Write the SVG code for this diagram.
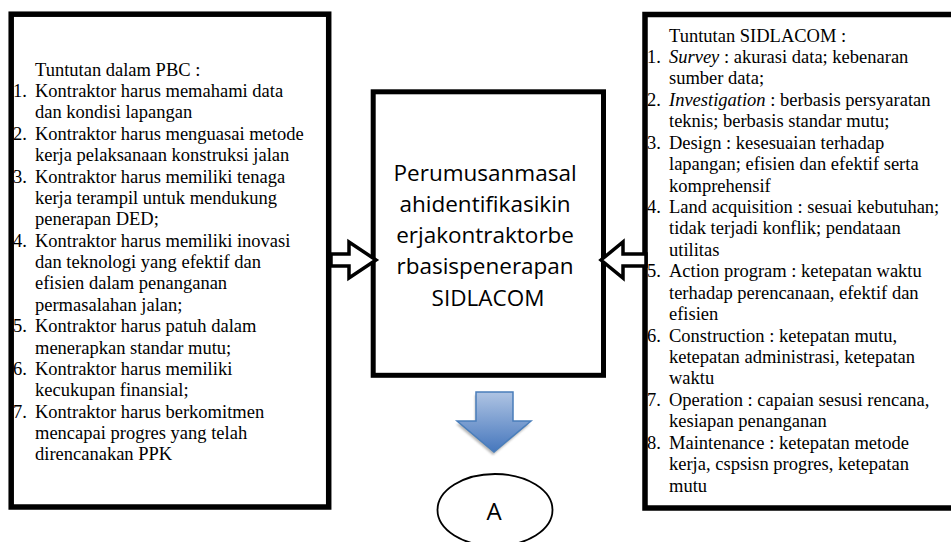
<svg xmlns="http://www.w3.org/2000/svg" width="951" height="542" viewBox="0 0 951 542">
<style>
.t{font-family:"Liberation Serif","Times New Roman",serif;font-size:18.5px;fill:#000}
.c{font-family:"Open Sans","Noto Sans",sans-serif;font-size:22.5px;fill:#000;text-anchor:middle}
.box{fill:none;stroke:#000;stroke-width:5.5}
.hol{fill:#fff;stroke:#000;stroke-width:3.5;stroke-linejoin:miter}
</style>
<defs>
<linearGradient id="bg" x1="0" y1="0" x2="0" y2="1">
<stop offset="0" stop-color="#afc4e3"/>
<stop offset="1" stop-color="#4677bd"/>
</linearGradient>
<filter id="sh" x="-20%" y="-20%" width="140%" height="140%">
<feGaussianBlur stdDeviation="1.2"/>
</filter>
</defs>
<rect width="951" height="542" fill="#fff"/>

<g id="left-box">
<text class="t">
<tspan x="35" y="75.7">Tuntutan dalam PBC :</tspan>
<tspan x="13" y="97.1">1.</tspan><tspan x="35" y="97.1">Kontraktor harus memahami data</tspan>
<tspan x="35" y="118.4">dan kondisi lapangan</tspan>
<tspan x="13" y="139.8">2.</tspan><tspan x="35" y="139.8">Kontraktor harus menguasai metode</tspan>
<tspan x="35" y="161.2">kerja pelaksanaan konstruksi jalan</tspan>
<tspan x="13" y="182.6">3.</tspan><tspan x="35" y="182.6">Kontraktor harus memiliki tenaga</tspan>
<tspan x="35" y="203.9">kerja terampil untuk mendukung</tspan>
<tspan x="35" y="225.3">penerapan DED;</tspan>
<tspan x="13" y="246.7">4.</tspan><tspan x="35" y="246.7">Kontraktor harus memiliki inovasi</tspan>
<tspan x="35" y="268.0">dan teknologi yang efektif dan</tspan>
<tspan x="35" y="289.4">efisien dalam penanganan</tspan>
<tspan x="35" y="310.8">permasalahan jalan;</tspan>
<tspan x="13" y="332.1">5.</tspan><tspan x="35" y="332.1">Kontraktor harus patuh dalam</tspan>
<tspan x="35" y="353.5">menerapkan standar mutu;</tspan>
<tspan x="13" y="374.9">6.</tspan><tspan x="35" y="374.9">Kontraktor harus memiliki</tspan>
<tspan x="35" y="396.3">kecukupan finansial;</tspan>
<tspan x="13" y="417.6">7.</tspan><tspan x="35" y="417.6">Kontraktor harus berkomitmen</tspan>
<tspan x="35" y="439.0">mencapai progres yang telah</tspan>
<tspan x="35" y="460.4">direncanakan PPK</tspan>
</text>
<rect class="box" x="11.2" y="14.2" width="317.5" height="492.8"/>
</g>

<g id="right-box">
<text class="t">
<tspan x="669" y="41.5">Tuntutan SIDLACOM :</tspan>
<tspan x="647" y="62.9">1.</tspan><tspan x="669" y="62.9"><tspan font-style="italic">Survey</tspan> : akurasi data; kebenaran</tspan>
<tspan x="669" y="84.4">sumber data;</tspan>
<tspan x="647" y="105.8">2.</tspan><tspan x="669" y="105.8"><tspan font-style="italic">Investigation</tspan> : berbasis persyaratan</tspan>
<tspan x="669" y="127.2">teknis; berbasis standar mutu;</tspan>
<tspan x="647" y="148.7">3.</tspan><tspan x="669" y="148.7">Design : kesesuaian terhadap</tspan>
<tspan x="669" y="170.1">lapangan; efisien dan efektif serta</tspan>
<tspan x="669" y="191.5">komprehensif</tspan>
<tspan x="647" y="212.9">4.</tspan><tspan x="669" y="212.9">Land acquisition : sesuai kebutuhan;</tspan>
<tspan x="669" y="234.4">tidak terjadi konflik; pendataan</tspan>
<tspan x="669" y="255.8">utilitas</tspan>
<tspan x="647" y="277.2">5.</tspan><tspan x="669" y="277.2">Action program : ketepatan waktu</tspan>
<tspan x="669" y="298.7">terhadap perencanaan, efektif dan</tspan>
<tspan x="669" y="320.1">efisien</tspan>
<tspan x="647" y="341.5">6.</tspan><tspan x="669" y="341.5">Construction : ketepatan mutu,</tspan>
<tspan x="669" y="362.9">ketepatan administrasi, ketepatan</tspan>
<tspan x="669" y="384.4">waktu</tspan>
<tspan x="647" y="405.8">7.</tspan><tspan x="669" y="405.8">Operation : capaian sesusi rencana,</tspan>
<tspan x="669" y="427.2">kesiapan penanganan</tspan>
<tspan x="647" y="448.7">8.</tspan><tspan x="669" y="448.7">Maintenance : ketepatan metode</tspan>
<tspan x="669" y="470.1">kerja, cspsisn progres, ketepatan</tspan>
<tspan x="669" y="491.5">mutu</tspan>
</text>
<rect class="box" x="645" y="14.5" width="320" height="493.5"/>
</g>

<g id="center-box">
<rect x="373.2" y="91.8" width="230.3" height="283.5" fill="#fff" stroke="#000" stroke-width="5"/>
<text class="c">
<tspan x="488" y="180.5">Perumusanmasal</tspan>
<tspan x="488" y="211.8">ahidentifikasikin</tspan>
<tspan x="488" y="243.1">erjakontraktorbe</tspan>
<tspan x="488" y="274.4">rbasispenerapan</tspan>
<tspan x="488" y="305.7">SIDLACOM</tspan>
</text>
</g>

<g id="node-a">
<ellipse cx="495" cy="510" rx="57.5" ry="36" fill="#fff" stroke="#000" stroke-width="1.8"/>
<text x="494" y="520" font-family="Open Sans, Noto Sans, sans-serif" font-size="24" text-anchor="middle">A</text>
</g>

<g id="connectors">
<polygon class="hol" points="331,254 349,254 349,242 376,260 349,278 349,266 331,266"/>
<polygon class="hol" points="646,254 623,254 623,242 601,260 623,278 623,266 646,266"/>
<polygon points="476,392 513,392 513,421 531,421 494,452 457,421 476,421" transform="translate(-1,3)" fill="#888" opacity="0.6" filter="url(#sh)"/>
<polygon points="476,392 513,392 513,421 531,421 494,452 457,421 476,421" fill="url(#bg)" stroke="#4a7ebb" stroke-width="1.5"/>
</g>
</svg>
